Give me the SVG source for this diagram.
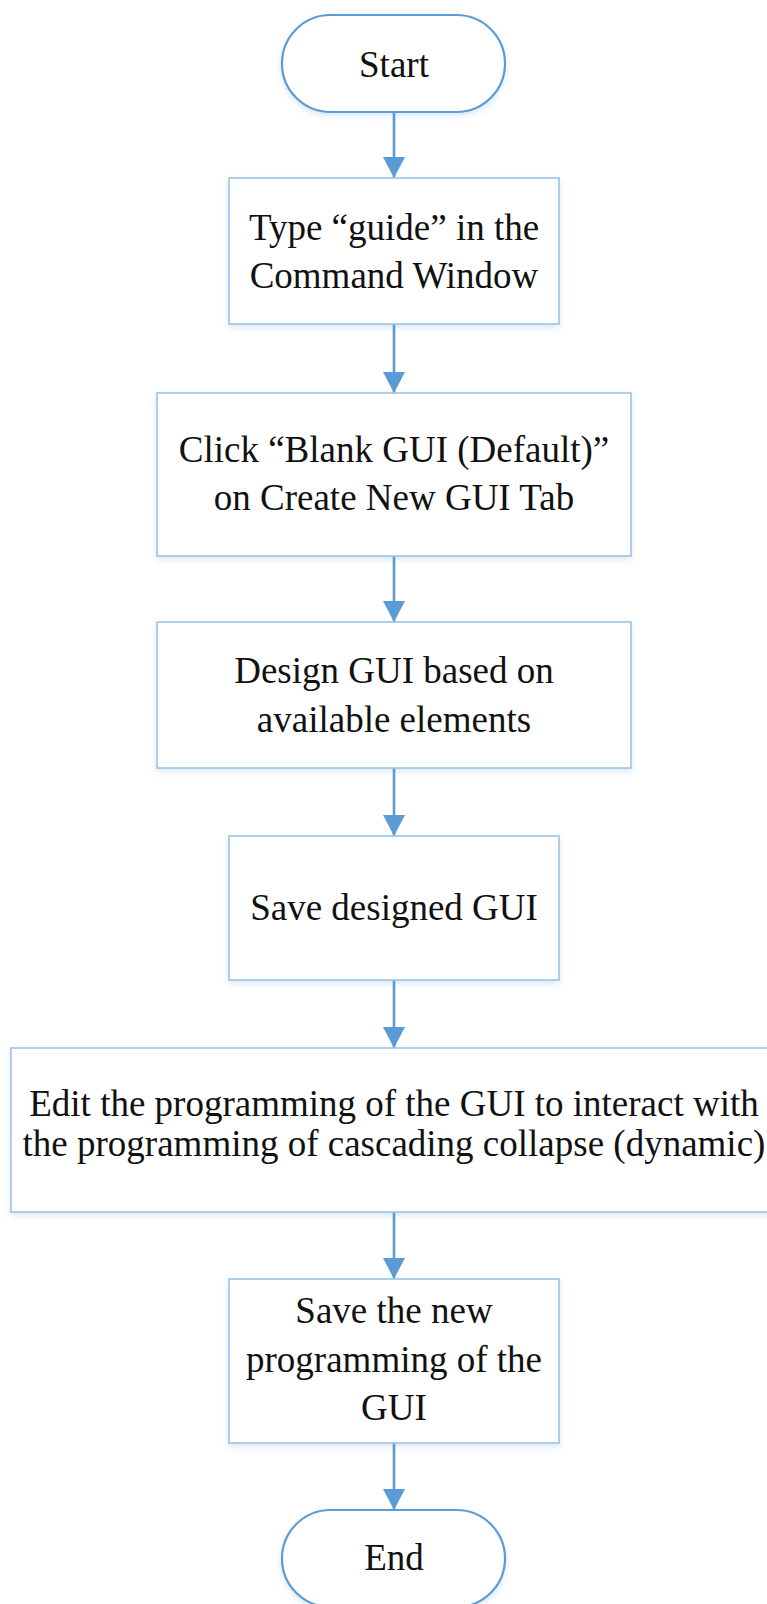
<svg xmlns="http://www.w3.org/2000/svg" width="767" height="1604" viewBox="0 0 767 1604">
<style>
  .term { fill: #ffffff; stroke: #5B9BD5; stroke-width: 2.2; }
  .box { fill: #ffffff; stroke: #9DC3E6; stroke-width: 1.6; }
  .lbl { font-family: "Liberation Serif", "Times New Roman", serif; font-size: 37px; fill: #111111; text-anchor: middle; }
  .conn { stroke: #5B9BD5; stroke-width: 2.6; fill: none; }
</style>
<defs>
  <filter id="sh" x="-10%" y="-10%" width="120%" height="130%">
    <feDropShadow dx="0" dy="3" stdDeviation="3" flood-color="#5B9BD5" flood-opacity="0.22"/>
  </filter>
  <marker id="ah" markerUnits="userSpaceOnUse" markerWidth="22" markerHeight="22" refX="21" refY="11" orient="auto">
    <path d="M0,0 L21,11 L0,22 Z" fill="#5B9BD5"/>
  </marker>
</defs>
<rect width="767" height="1604" fill="#ffffff"/>

<g id="connectors">
  <line class="conn" x1="394" y1="112" x2="394" y2="178" marker-end="url(#ah)"/>
  <line class="conn" x1="394" y1="324" x2="394" y2="393" marker-end="url(#ah)"/>
  <line class="conn" x1="394" y1="556" x2="394" y2="622" marker-end="url(#ah)"/>
  <line class="conn" x1="394" y1="768" x2="394" y2="836" marker-end="url(#ah)"/>
  <line class="conn" x1="394" y1="980" x2="394" y2="1048" marker-end="url(#ah)"/>
  <line class="conn" x1="394" y1="1212" x2="394" y2="1279" marker-end="url(#ah)"/>
  <line class="conn" x1="394" y1="1443" x2="394" y2="1510" marker-end="url(#ah)"/>
</g>

<g id="start">
  <rect class="term" x="282" y="15" width="223" height="97" rx="48.5" ry="48.5" filter="url(#sh)"/>
  <text class="lbl" x="394" y="77">Start</text>
</g>

<g id="type-guide">
  <rect class="box" x="229" y="178" width="330" height="146" filter="url(#sh)"/>
  <text class="lbl" x="394" y="240">Type “guide” in the</text>
  <text class="lbl" x="394" y="288">Command Window</text>
</g>

<g id="click-blank">
  <rect class="box" x="157" y="393" width="474" height="163" filter="url(#sh)"/>
  <text class="lbl" x="394" y="462">Click “Blank GUI (Default)”</text>
  <text class="lbl" x="394" y="510">on Create New GUI Tab</text>
</g>

<g id="design-gui">
  <rect class="box" x="157" y="622" width="474" height="146" filter="url(#sh)"/>
  <text class="lbl" x="394" y="683">Design GUI based on</text>
  <text class="lbl" x="394" y="732">available elements</text>
</g>

<g id="save-designed">
  <rect class="box" x="229" y="836" width="330" height="144" filter="url(#sh)"/>
  <text class="lbl" x="394" y="920">Save designed GUI</text>
</g>

<g id="edit-programming">
  <rect class="box" x="11" y="1048" width="770" height="164" filter="url(#sh)"/>
  <text class="lbl" x="394" y="1116">Edit the programming of the GUI to interact with</text>
  <text class="lbl" x="394" y="1156">the programming of cascading collapse (dynamic)</text>
</g>

<g id="save-new">
  <rect class="box" x="229" y="1279" width="330" height="164" filter="url(#sh)"/>
  <text class="lbl" x="394" y="1323">Save the new</text>
  <text class="lbl" x="394" y="1372">programming of the</text>
  <text class="lbl" x="394" y="1420">GUI</text>
</g>

<g id="end">
  <rect class="term" x="282" y="1510" width="223" height="97" rx="48.5" ry="48.5" filter="url(#sh)"/>
  <text class="lbl" x="394" y="1570">End</text>
</g>
</svg>
